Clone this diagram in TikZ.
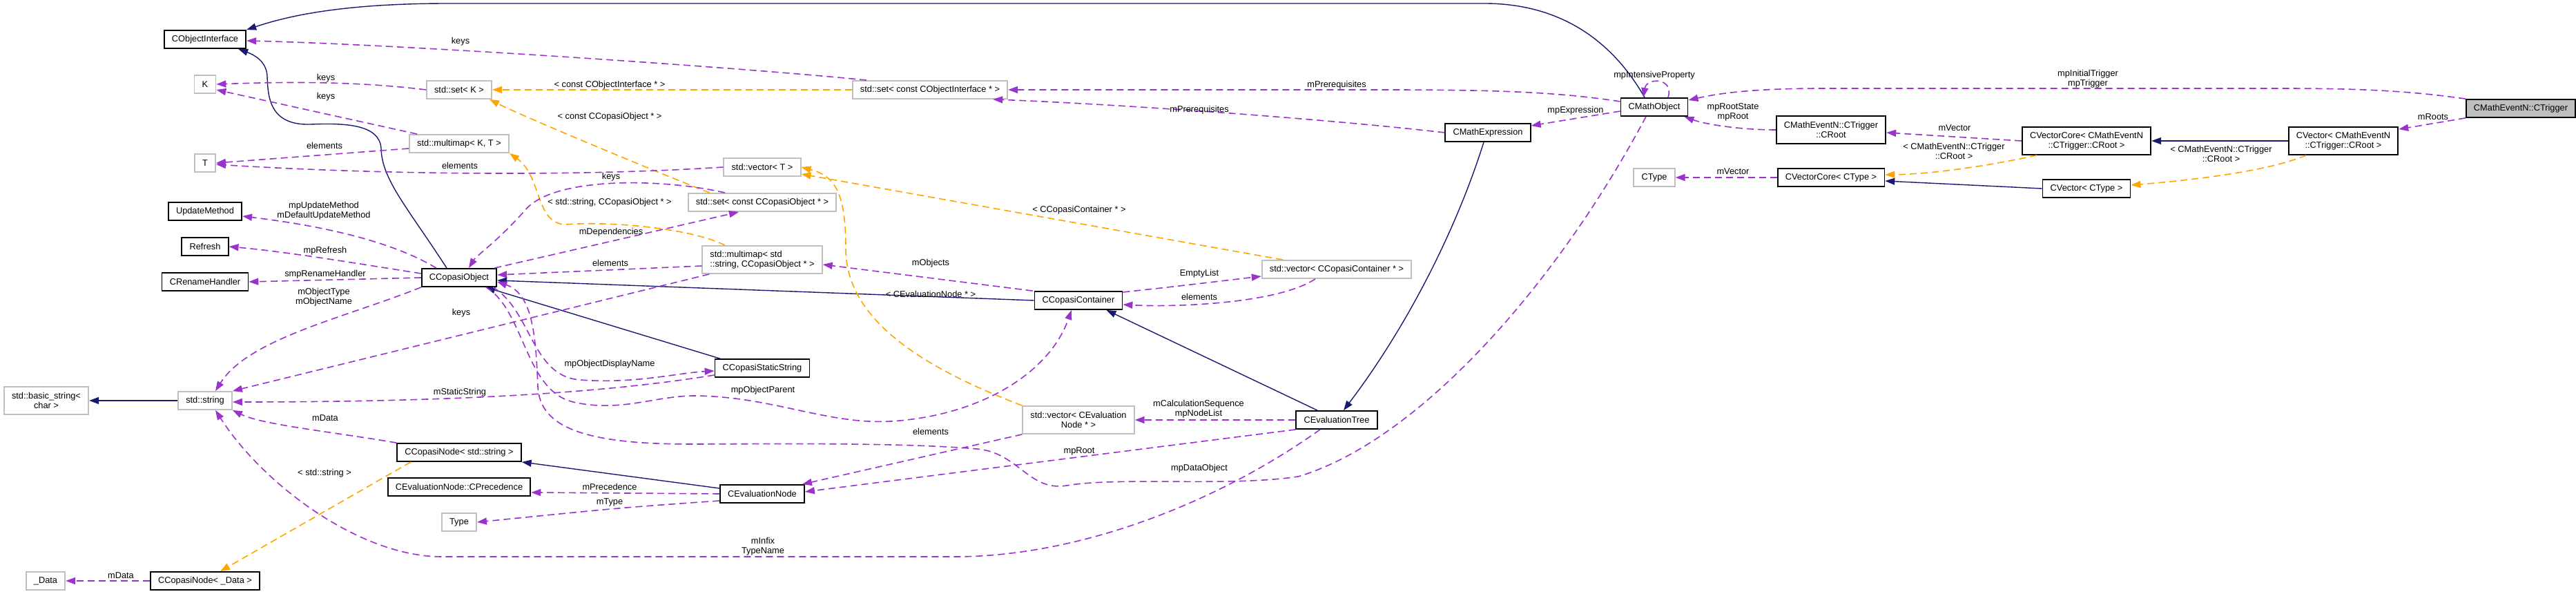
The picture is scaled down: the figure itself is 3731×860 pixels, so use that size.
\documentclass[tikz,border=0pt]{standalone}
\usepackage{fontspec}
\setmainfont{Liberation Sans}
\usepackage{xcolor}
\usepackage{tikz}
\usetikzlibrary{arrows.meta}
\definecolor{dxblue}{HTML}{191970}
\definecolor{dxpurple}{HTML}{9A32CD}
\definecolor{dxorange}{HTML}{FFA500}
\definecolor{dxgrey}{HTML}{BFBFBF}
\newcommand{\dxfont}{\fontsize{6.4}{7}\selectfont}
\tikzset{
  dxcls/.style={draw=black, line width=0.9pt, fill=white, minimum height=13pt,
                inner xsep=5.6pt, inner ysep=1pt, align=center, font=\dxfont},
  dxext/.style={dxcls, draw=dxgrey},
  dxtwo/.style={minimum height=20pt},
  dxlab/.style={font=\dxfont, inner sep=0pt, align=center},
  dxinh/.style={draw=dxblue, line width=0.7pt, -{Triangle[length=7pt,width=5pt]}},
  dxuse/.style={draw=dxpurple, line width=0.8pt, dash pattern=on 5pt off 3pt,
                -{Triangle[length=7pt,width=5pt]}},
  dxtpl/.style={draw=dxorange, line width=0.8pt, dash pattern=on 5pt off 3pt,
                -{Triangle[length=7pt,width=5pt]}}
}

\begin{document}
\begin{tikzpicture}[x=0.5pt, y=-0.5pt]
  \useasboundingbox (0,0) rectangle (3731,860);
  \node[dxcls] (cobji) at (297,57) {CObjectInterface};
  \node[dxext] (kk) at (297,122) {K};
  \node[dxext] (tt) at (297,236) {T};
  \node[dxcls] (updm) at (297,306) {UpdateMethod};
  \node[dxcls] (refresh) at (297,357) {Refresh};
  \node[dxcls] (renh) at (297,408) {CRenameHandler};
  \node[dxext] (sstr) at (297,580) {std::string};
  \node[dxcls] (cndata) at (297,841) {CCopasiNode< \_Data >};
  \node[dxext, dxtwo] (bstr) at (67,580) {std::basic\_string<\\char >};
  \node[dxext] (data) at (66,841) {\_Data};
  \node[dxext] (setk) at (665,130) {std::set< K >};
  \node[dxext] (mmapkt) at (665,208) {std::multimap< K, T >};
  \node[dxcls] (cobj) at (665,402) {CCopasiObject};
  \node[dxcls] (cnstr) at (665,655) {CCopasiNode< std::string >};
  \node[dxcls] (cprec) at (665,705) {CEvaluationNode::CPrecedence};
  \node[dxext] (ttype) at (665,756) {Type};
  \node[dxext] (vect) at (1104,242) {std::vector< T >};
  \node[dxext] (setcco) at (1104,293) {std::set< const CCopasiObject * >};
  \node[dxext, dxtwo, align=left] (mmapsc) at (1104,376) {std::multimap< std\\::string, CCopasiObject * >};
  \node[dxcls] (cstat) at (1104,533) {CCopasiStaticString};
  \node[dxcls] (cenode) at (1104,715) {CEvaluationNode};
  \node[dxext] (setcoi) at (1347,130) {std::set< const CObjectInterface * >};
  \node[dxcls] (ccont) at (1562,435) {CCopasiContainer};
  \node[dxext, dxtwo] (vecev) at (1562,608) {std::vector< CEvaluation\\Node * >};
  \node[dxext] (vecco) at (1936,390) {std::vector< CCopasiContainer * >};
  \node[dxcls] (cetree) at (1936,608) {CEvaluationTree};
  \node[dxcls] (cmexpr) at (2155,192) {CMathExpression};
  \node[dxcls] (cmobj) at (2396,155) {CMathObject};
  \node[dxext] (ctype) at (2396,257) {CType};
  \node[dxcls, dxtwo] (croot) at (2652,188) {CMathEventN::CTrigger\\::CRoot};
  \node[dxcls] (vccore) at (2652,257) {CVectorCore< CType >};
  \node[dxcls, dxtwo] (vcroot) at (3022,204) {CVectorCore< CMathEventN\\::CTrigger::CRoot >};
  \node[dxcls, dxtwo] (vroot) at (3394,204) {CVector< CMathEventN\\::CTrigger::CRoot >};
  \node[dxcls] (vctype) at (3022,273) {CVector< CType >};
  \node[dxcls, fill=dxgrey] (trig) at (3651,157) {CMathEventN::CTrigger};

  \draw[dxinh] ([xshift=-7pt]cmobj.north) .. controls (2330,50) and (2250,5) .. (2150,5) -- (650,5)
    .. controls (500,5) and (420,22) .. (cobji.north east);
  \draw[dxinh] ([xshift=-9pt]cobj.north) .. controls (590,300) and (553,260) .. (552,215)
    .. controls (550,180) and (500,178) .. (450,180) .. controls (390,182) and (388,140) .. (387,110)
    .. controls (386,90) and (370,80) .. ([xshift=-6pt]cobji.south east);
  \draw[dxinh] (ccont.west) -- ([yshift=-2pt]cobj.east);
  \draw[dxinh] ([xshift=4pt]cstat.north west) -- (cobj.-20);
  \draw[dxinh] (sstr.west) -- (bstr.east);
  \draw[dxinh] ([yshift=4pt]cenode.west) -- (cnstr.south east);
  \draw[dxinh] ([xshift=-14pt]cetree.north) -- ([xshift=-12pt]ccont.south east);
  \draw[dxinh] ([xshift=-3pt]cmexpr.south) .. controls (2110,330) and (2040,470) .. ([xshift=5pt]cetree.north);
  \draw[dxinh] (vctype.west) -- ([yshift=-2.5pt]vccore.east);
  \draw[dxinh] (vroot.west) -- (vcroot.east);

  \draw[dxtpl] (setcoi.west) -- (setk.east);
  \draw[dxtpl] ([xshift=-38pt]setcco.north) .. controls (990,265) and (760,170) .. ([xshift=-2pt]setk.south east);
  \draw[dxtpl] ([xshift=-27pt]mmapsc.north) .. controls (1000,330) and (880,320) .. (820,325)
    .. controls (775,325) and (785,255) .. (mmapkt.south east);
  \draw[dxtpl] ([xshift=-39pt]vecco.north) -- ([yshift=-5pt]vect.east);
  \draw[dxtpl] (vecev.north west) .. controls (1330,530) and (1225,460) .. (1225,360)
    .. controls (1225,280) and (1210,255) .. (vect.east);
  \draw[dxtpl] ([xshift=-35pt]cnstr.south) -- ([xshift=11pt]cndata.north);
  \draw[dxtpl] ([xshift=-36pt]vcroot.south) .. controls (2880,240) and (2800,252) .. ([yshift=2pt]vccore.east);
  \draw[dxtpl] ([xshift=-27pt]vroot.south) .. controls (3280,250) and (3160,262) .. ([yshift=2.5pt]vctype.east);

  \draw[dxuse] ([xshift=-46pt]setcoi.north) .. controls (1100,100) and (600,65) .. ([yshift=-1pt]cobji.east);
  \draw[dxuse] (setk.west) .. controls (520,118) and (420,118) .. (kk.east);
  \draw[dxuse] ([xshift=6pt]mmapkt.north west) -- ([yshift=-4pt]kk.east);
  \draw[dxuse] ([yshift=-3.5pt]mmapkt.west) -- (tt.east);
  \draw[dxuse] (vect.west) .. controls (800,258) and (500,250) .. ([yshift=-1pt]tt.east);
  \draw[dxuse] ([xshift=-27pt]setcco.north) .. controls (960,258) and (800,255) .. (760,305)
    .. controls (720,350) and (690,370) .. ([xshift=7pt]cobj.north);
  \draw[dxuse] ([xshift=-2pt]cobj.north east) -- ([xshift=-17pt]setcco.south);
  \draw[dxuse] ([yshift=-4.5pt]mmapsc.west) -- ([yshift=2pt]cobj.east);
  \draw[dxuse] ([xshift=-1pt]ccont.north west) -- ([yshift=-3.5pt]mmapsc.east);
  \draw[dxuse] ([yshift=6pt]ccont.east) .. controls (1700,415) .. ([yshift=-5pt]vecco.west);
  \draw[dxuse] ([xshift=-15.5pt]vecco.south) .. controls (1850,440) and (1700,445) .. ([yshift=-3pt]ccont.east);
  \draw[dxuse] ([xshift=-16.5pt]cobj.north) .. controls (560,345) and (450,325) .. ([yshift=-3.5pt]updm.east);
  \draw[dxuse] ([yshift=3pt]cobj.west) .. controls (520,382) and (420,365) .. (refresh.east);
  \draw[dxuse] (cobj.west) -- (renh.east);
  \draw[dxuse] (cobj.south west) .. controls (500,460) and (360,490) .. ([xshift=7.5pt]sstr.north);
  \draw[dxuse] ([xshift=5.5pt]mmapsc.south west) -- (sstr.north east);
  \draw[dxuse] ([yshift=-5pt]cstat.west) .. controls (900,565) and (700,582) .. ([yshift=-1pt]sstr.east);
  \draw[dxuse] ([xshift=-3pt]cobj.south east) .. controls (770,450) and (770,545) .. (840,550)
    .. controls (920,556) and (980,540) .. ([yshift=-2pt]cstat.west);
  \draw[dxuse] ([xshift=-8pt]cobj.south east) .. controls (760,450) and (760,565) .. (830,582)
    .. controls (900,598) and (950,572) .. (1010,573) .. controls (1120,575) and (1200,615) .. (1290,610)
    .. controls (1420,602) and (1520,540) .. ([xshift=-5pt]ccont.south);
  \draw[dxuse] ([xshift=-6pt]cmobj.south) .. controls (2250,420) and (2050,640) .. (1880,690)
    .. controls (1780,705) and (1620,690) .. (1545,703) .. controls (1490,712) and (1475,655) .. (1415,650)
    .. controls (1300,640) and (1100,643) .. (1000,643) .. controls (850,643) and (782,620) .. (779,560)
    .. controls (776,480) and (770,425) .. ([yshift=-3pt]cobj.east);
  \draw[dxuse] ([xshift=-12pt]cetree.south) .. controls (1760,730) and (1560,806) .. (1383,806) -- (640,806)
    .. controls (520,806) and (380,700) .. ([xshift=7.5pt]sstr.south);
  \draw[dxuse] (vecev.south west) -- ([xshift=-2pt]cenode.north east);
  \draw[dxuse] (cetree.south west) -- ([yshift=1.5pt]cenode.east);
  \draw[dxuse] (cetree.west) -- (vecev.east);
  \draw[dxuse] (cenode.west) -- ([yshift=-4pt]cprec.east);
  \draw[dxuse] ([yshift=-5pt]cenode.west) .. controls (900,735) .. (ttype.east);
  \draw[dxuse] (cndata.west) -- (data.east);
  \draw[dxuse] (cnstr.north west) .. controls (480,625) and (380,615) .. (sstr.south east);
  \draw[dxuse] ([yshift=4pt]cmobj.west) .. controls (2250,132) and (2150,130) .. (2000,130) -- (setcoi.east);
  \draw[dxuse] (cmexpr.west) .. controls (1900,170) and (1600,150) .. ([xshift=-11pt]setcoi.south east);
  \draw[dxuse] ([yshift=-3pt]cmobj.west) -- ([yshift=5pt]cmexpr.east);
  \draw[dxuse] ([xshift=10pt]cmobj.north) .. controls (2425,112) and (2385,112) .. ([xshift=-8pt]cmobj.north);
  \draw[dxuse] (croot.west) .. controls (2520,188) and (2470,180) .. ([xshift=-3pt]cmobj.south east);
  \draw[dxuse] (trig.north west) .. controls (3480,130) and (3400,128) .. (3300,128) -- (2640,128)
    .. controls (2540,128) and (2490,135) .. ([yshift=5pt]cmobj.east);
  \draw[dxuse] (vcroot.west) -- ([yshift=-2pt]croot.east);
  \draw[dxuse] (vccore.west) -- (ctype.east);
  \draw[dxuse] (trig.south west) -- ([yshift=-2pt]vroot.north east);

  \node[dxlab] (lkeysa) at (667,60) {keys};
  \node[dxlab] (lkeysb) at (472,113) {keys};
  \node[dxlab] (lkeysc) at (472,140) {keys};
  \node[dxlab] (lcoi) at (883,123) {< const CObjectInterface * >};
  \node[dxlab] (lcco) at (883,169) {< const CCopasiObject * >};
  \node[dxlab] (lelema) at (470,211) {elements};
  \node[dxlab] (lelemb) at (666,240) {elements};
  \node[dxlab] (lkeysd) at (885,256) {keys};
  \node[dxlab] (lstrco) at (883,293) {< std::string, CCopasiObject * >};
  \node[dxlab] (lupdm) at (469,305) {mpUpdateMethod\\mDefaultUpdateMethod};
  \node[dxlab] (ldeps) at (885,336) {mDependencies};
  \node[dxlab] (lrefresh) at (471,363) {mpRefresh};
  \node[dxlab] (lelemc) at (884,381) {elements};
  \node[dxlab] (lrenh) at (471,397) {smpRenameHandler};
  \node[dxlab] (lobjname) at (469,430) {mObjectType\\mObjectName};
  \node[dxlab] (lkeyse) at (668,453) {keys};
  \node[dxlab] (ldisp) at (883,527) {mpObjectDisplayName};
  \node[dxlab] (lstatic) at (666,568) {mStaticString};
  \node[dxlab] (ldataa) at (471,605) {mData};
  \node[dxlab] (lstdstr) at (470,685) {< std::string >};
  \node[dxlab] (lprec) at (883,705) {mPrecedence};
  \node[dxlab] (ltype) at (883,727) {mType};
  \node[dxlab] (ldatab) at (175,833) {mData};
  \node[dxlab] (lprera) at (1936,123) {mPrerequisites};
  \node[dxlab] (lprerb) at (1737,159) {mPrerequisites};
  \node[dxlab] (lccont) at (1563,304) {< CCopasiContainer * >};
  \node[dxlab] (lobjs) at (1348,381) {mObjects};
  \node[dxlab] (lempty) at (1737,396) {EmptyList};
  \node[dxlab] (levnode) at (1348,426) {< CEvaluationNode * >};
  \node[dxlab] (lelemd) at (1737,430) {elements};
  \node[dxlab] (lparent) at (1105,565) {mpObjectParent};
  \node[dxlab] (lcalc) at (1736,592) {mCalculationSequence\\mpNodeList};
  \node[dxlab] (leleme) at (1348,625) {elements};
  \node[dxlab] (lroota) at (1563,653) {mpRoot};
  \node[dxlab] (ldataobj) at (1737,678) {mpDataObject};
  \node[dxlab] (linfix) at (1105,791) {mInfix\\TypeName};
  \node[dxlab] (lintens) at (2396,109) {mpIntensiveProperty};
  \node[dxlab] (lexpr) at (2282,160) {mpExpression};
  \node[dxlab] (lrootb) at (2510,162) {mpRootState\\mpRoot};
  \node[dxlab] (lveca) at (2831,185) {mVector};
  \node[dxlab] (lcroota) at (2830,219) {< CMathEventN::CTrigger\\::CRoot >};
  \node[dxlab] (lvecb) at (2510,248) {mVector};
  \node[dxlab] (ltrig) at (3024,114) {mpInitialTrigger\\mpTrigger};
  \node[dxlab] (lroots) at (3524,169) {mRoots};
  \node[dxlab] (lcrootb) at (3217,223) {< CMathEventN::CTrigger\\::CRoot >};
\end{tikzpicture}
\end{document}
